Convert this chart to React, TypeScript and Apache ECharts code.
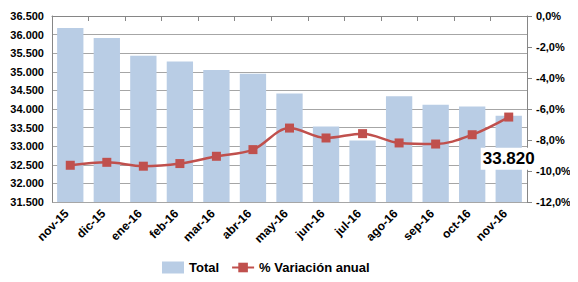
import React, { useEffect, useRef } from "react";
import * as echarts from "echarts";

const categories = ["nov-15", "dic-15", "ene-16", "feb-16", "mar-16", "abr-16", "may-16", "jun-16", "jul-16", "ago-16", "sep-16", "oct-16", "nov-16"];
const totalValues = [36180, 35910, 35430, 35280, 35050, 34945, 34420, 33530, 33150, 34340, 34115, 34070, 33820];
const variationValues = [-9.63, -9.44, -9.69, -9.52, -9.05, -8.62, -7.23, -7.87, -7.59, -8.19, -8.26, -7.66, -6.52];
const leftTicks = { min: 31500, max: 36500, interval: 500 };
const rightTicks = { min: -12, max: 0, interval: 2 };

const FONT = "'Liberation Sans', Arial, sans-serif";

function fmtThousands(v: number): string {
  const s = Math.round(v).toString();
  return s.replace(/\B(?=(\d{3})+(?!\d))/g, ".");
}

export default function App() {
  const ref = useRef<HTMLDivElement>(null);
  useEffect(() => {
    if (!ref.current) return;
    const chart = echarts.init(ref.current, undefined, { renderer: "svg" });
    const gridColors: string[] = [];
    const nLines = (leftTicks.max - leftTicks.min) / leftTicks.interval + 1;
    for (let i = 0; i < nLines; i++) gridColors.push(i === nLines - 1 ? "rgba(0,0,0,0)" : "#A6A6A6");
    const lastIdx = totalValues.length - 1;
    chart.setOption({
      animation: false,
      backgroundColor: "#fff",
      textStyle: { fontFamily: FONT },
      grid: { left: 52, right: 51, top: 16, bottom: 80, containLabel: false },
      legend: {
        left: 157,
        top: 256,
        padding: 5,
        itemGap: 12,
        itemWidth: 22,
        itemHeight: 12,
        textStyle: { fontFamily: FONT, fontWeight: "bold", fontSize: 13, color: "#000" },
        data: [
          { name: "Total", icon: "rect" },
          { name: "% Variación anual" },
        ],
      },
      xAxis: {
        type: "category",
        data: categories,
        axisLine: { lineStyle: { color: "#868686" } },
        axisTick: { show: true, length: 5, lineStyle: { color: "#868686" } },
        axisLabel: {
          rotate: 45,
          fontFamily: FONT,
          fontWeight: "bold",
          fontSize: 12,
          color: "#000",
          margin: 6,
          interval: 0,
          padding: [0, 5, 0, 0],
        },
      },
      yAxis: [
        {
          type: "value",
          min: leftTicks.min,
          max: leftTicks.max,
          interval: leftTicks.interval,
          axisLine: { show: true, lineStyle: { color: "#868686" } },
          axisTick: { show: false },
          splitLine: { show: true, lineStyle: { color: gridColors, width: 1 } },
          axisLabel: { fontFamily: FONT, fontWeight: "bold", fontSize: 11, color: "#000", margin: 8, formatter: (v: number) => fmtThousands(v) },
        },
        {
          type: "value",
          min: rightTicks.min,
          max: rightTicks.max,
          interval: rightTicks.interval,
          position: "right",
          axisLine: { show: true, lineStyle: { color: "#868686" } },
          axisTick: { show: true, length: 5, lineStyle: { color: "#868686" } },
          splitLine: { show: false },
          axisLabel: {
            fontFamily: FONT,
            fontWeight: "bold",
            fontSize: 11,
            color: "#000",
            margin: 9,
            formatter: (v: number) => v.toFixed(1).replace(".", ",") + "%",
          },
        },
      ],
      series: [
        {
          name: "Total",
          type: "bar",
          yAxisIndex: 0,
          barCategoryGap: "28%",
          itemStyle: { color: "#B9CDE5" },
          data: totalValues.map((v, i) =>
            i === lastIdx
              ? {
                  value: v,
                  label: {
                    show: true,
                    position: "inside",
                    formatter: (p: any) => fmtThousands(p.value),
                    fontFamily: FONT,
                    fontWeight: "bold",
                    fontSize: 17,
                    color: "#000",
                    backgroundColor: "#fff",
                    padding: [3, 2, 2, 2],
                  },
                }
              : v
          ),
          z: 2,
        },
        {
          name: "% Variación anual",
          type: "line",
          yAxisIndex: 1,
          smooth: 0.35,
          symbol: "rect",
          symbolSize: 9,
          itemStyle: { color: "#C0504D" },
          lineStyle: { color: "#C0504D", width: 2.5 },
          data: variationValues,
          z: 3,
        },
      ],
    });
    return () => chart.dispose();
  }, []);
  return <div ref={ref} style={{ width: 578, height: 282, margin: -8 }} />;
}
